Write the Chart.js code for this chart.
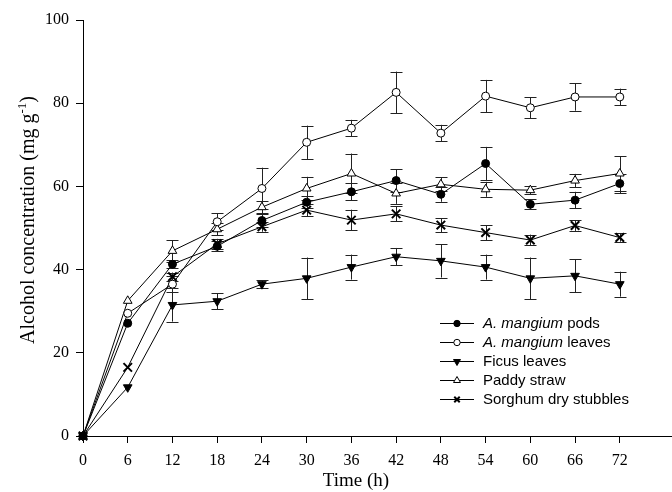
<!DOCTYPE html>
<html><head><meta charset="utf-8">
<script src="https://cdn.jsdelivr.net/npm/chart.js@4/dist/chart.umd.min.js"></script>
<style>html,body{margin:0;padding:0;background:#fff;overflow:hidden}#wrap{width:672px;height:492px;position:relative}canvas{display:block}</style>
</head><body><div id="wrap"><canvas id="c"></canvas></div>
<script>
// ---- data ----
const hours = [0,6,12,18,24,30,36,42,48,54,60,66,72];
const yTickValues = [0,20,40,60,80,100];
const xTitle = 'Time (h)';
const yTitleMain = 'Alcohol concentration (mg g';
const yTitleSup = '-1';
const yTitleEnd = ')';
const seriesItalic = ['A. mangium','A. mangium','','',''];
const seriesRest = [' pods',' leaves','Ficus leaves','Paddy straw','Sorghum dry stubbles'];
const podsValues    = [0,27.1,41.3,45.6,51.8,56.2,58.7,61.4,58.1,65.5,55.7,56.7,60.7];
const podsErrors    = [0,0,1.0,1.2,1.5,1.5,2.0,2.7,1.8,4.0,1.2,2.0,2.3];
const leavesValues  = [0,29.5,36.5,51.5,59.5,70.6,74.0,82.6,72.8,81.7,78.9,81.5,81.5];
const leavesErrors  = [0,0,2.0,2.0,5.0,4.0,2.0,5.0,2.0,3.9,2.5,3.3,2.0];
const ficusValues   = [0,11.7,31.5,32.4,36.5,37.9,40.6,43.1,42.1,40.6,37.9,38.5,36.5];
const ficusErrors   = [0,0,4.0,1.9,1.0,5.0,3.0,2.1,4.0,3.0,5.0,4.0,3.0];
const paddyValues   = [0,32.5,44.5,49.7,55.0,59.5,63.1,58.3,60.5,59.3,59.1,61.4,63.1];
const paddyErrors   = [0,0,2.6,1.5,1.5,2.8,4.8,2.5,1.7,1.8,1.0,1.6,4.2];
const sorghumValues = [0,16.5,38.3,46.2,50.3,54.3,51.9,53.4,50.7,48.9,47.1,50.6,47.7];
const sorghumErrors = [0,0,1.0,1.2,1.2,1.5,2.5,1.8,1.7,1.8,1.3,1.3,1.0];

const allValues = [podsValues, leavesValues, ficusValues, paddyValues, sorghumValues];
const allErrors = [podsErrors, leavesErrors, ficusErrors, paddyErrors, sorghumErrors];

const markerStyles = [
  {pointStyle:'circle', radius:4, bg:'#000', rot:0, bw:1},
  {pointStyle:'circle', radius:4, bg:'#fff', rot:0, bw:1},
  {pointStyle:'triangle', radius:5, bg:'#000', rot:180, bw:1},
  {pointStyle:'triangle', radius:5, bg:'#fff', rot:0, bw:1},
  {pointStyle:'crossRot', radius:6, bg:'#000', rot:0, bw:2}
];

const datasets = allValues.map((vals, i) => ({
  label: (seriesItalic[i] + seriesRest[i]).trim(),
  data: hours.map((h, j) => ({x:h, y:vals[j]})),
  errors: allErrors[i],
  borderColor:'#000', borderWidth:1, tension:0,
  pointStyle: markerStyles[i].pointStyle,
  pointRadius: markerStyles[i].radius,
  pointRotation: markerStyles[i].rot,
  pointBackgroundColor: markerStyles[i].bg,
  pointBorderColor:'#000',
  pointBorderWidth: markerStyles[i].bw,
  clip:false
}));

const errorBars = {
  id:'errorBars',
  beforeDatasetsDraw(chart){
    const ctx = chart.ctx, ys = chart.scales.y;
    ctx.save();
    ctx.strokeStyle = '#222'; ctx.lineWidth = 1;
    chart.data.datasets.forEach((ds, i) => {
      const meta = chart.getDatasetMeta(i);
      meta.data.forEach((pt, j) => {
        const e = ds.errors[j]; if (!e) return;
        const v = ds.data[j].y;
        const x = Math.round(pt.x) + 0.5;
        const y1 = ys.getPixelForValue(v + e), y2 = ys.getPixelForValue(v - e);
        ctx.beginPath();
        ctx.moveTo(x, y1); ctx.lineTo(x, y2);
        ctx.moveTo(x - 6, Math.round(y1)+0.5); ctx.lineTo(x + 6, Math.round(y1)+0.5);
        ctx.moveTo(x - 6, Math.round(y2)+0.5); ctx.lineTo(x + 6, Math.round(y2)+0.5);
        ctx.stroke();
      });
    });
    ctx.restore();
  }
};

function drawMarker(ctx, st, x, y, scale){
  const r = st.radius * scale;
  ctx.save();
  ctx.fillStyle = st.bg; ctx.strokeStyle = '#000'; ctx.lineWidth = st.bw;
  ctx.beginPath();
  if (st.pointStyle === 'circle') { ctx.arc(x, y, r, 0, Math.PI*2); ctx.fill(); ctx.stroke(); }
  else if (st.pointStyle === 'triangle') {
    const s = st.rot === 180 ? -1 : 1;
    ctx.moveTo(x, y - s*r);
    ctx.lineTo(x + r*0.866, y + s*r*0.5);
    ctx.lineTo(x - r*0.866, y + s*r*0.5);
    ctx.closePath(); ctx.fill(); ctx.stroke();
  } else {
    const d = r*0.7;
    ctx.moveTo(x-d, y-d); ctx.lineTo(x+d, y+d);
    ctx.moveTo(x+d, y-d); ctx.lineTo(x-d, y+d);
    ctx.stroke();
  }
  ctx.restore();
}

const serif = '"Liberation Serif", "Times New Roman", serif';

const customText = {
  id:'customText',
  afterDraw(chart){
    const ctx = chart.ctx;
    ctx.save();
    const x0 = 440, x1 = 474, tx = 483, y0 = 323, dy = 19;
    chart.data.datasets.forEach((ds, i) => {
      const y = y0 + i*dy;
      ctx.strokeStyle = '#000'; ctx.lineWidth = 1;
      ctx.beginPath(); ctx.moveTo(x0, y + 0.5); ctx.lineTo(x1, y + 0.5); ctx.stroke();
      drawMarker(ctx, markerStyles[i], (x0+x1)/2, y + 0.5, i === 4 ? 0.65 : 0.8);
      ctx.fillStyle = '#000'; ctx.textBaseline = 'middle'; ctx.textAlign = 'left';
      let x = tx;
      if (seriesItalic[i]) {
        ctx.font = 'italic 15px "Liberation Sans", Arial, sans-serif';
        ctx.fillText(seriesItalic[i], x, y + 1);
        x += ctx.measureText(seriesItalic[i]).width;
      }
      ctx.font = '15px "Liberation Sans", Arial, sans-serif';
      ctx.fillText(seriesRest[i], x, y + 1);
    });
    ctx.fillStyle = '#000';
    ctx.font = '19px ' + serif;
    ctx.textAlign = 'center'; ctx.textBaseline = 'middle';
    ctx.fillText(xTitle, 356, 481);
    const mainFont = '20px ' + serif, supFont = '13px ' + serif;
    ctx.font = mainFont; const w1 = ctx.measureText(yTitleMain).width;
    const w3 = ctx.measureText(yTitleEnd).width;
    ctx.font = supFont; const w2 = ctx.measureText(yTitleSup).width;
    const total = w1 + w2 + w3;
    ctx.translate(27, 220);
    ctx.rotate(-Math.PI/2);
    ctx.textAlign = 'left'; ctx.textBaseline = 'alphabetic';
    let sx = -total/2;
    ctx.font = mainFont; ctx.fillText(yTitleMain, sx, 7); sx += w1;
    ctx.font = supFont; ctx.fillText(yTitleSup, sx, -1); sx += w2;
    ctx.font = mainFont; ctx.fillText(yTitleEnd, sx, 7);
    ctx.restore();
  }
};

new Chart(document.getElementById('c'), {
  type:'line',
  data:{ datasets },
  plugins:[errorBars, customText],
  options:{
    responsive:true, maintainAspectRatio:false, animation:false,
    layout:{ autoPadding:false, padding:{ top:20, right:0, bottom:0, left:0 } },
    plugins:{ legend:{display:false}, tooltip:{enabled:false} },
    scales:{
      x:{
        type:'linear', min:0, max:79,
        afterBuildTicks(scale){ scale.ticks = hours.map(h => ({value:h})); },
        afterFit(scale){ scale.height = 56; scale.paddingRight = 0; scale.paddingLeft = 0; },
        grid:{ display:true, drawOnChartArea:false, drawTicks:true, tickLength:7, color:'#000', tickWidth:1 },
        border:{ display:true, color:'#000', width:1 },
        ticks:{ color:'#000', font:{family:serif, size:16}, padding:8, maxRotation:0, autoSkip:false },
        title:{ display:false }
      },
      y:{
        type:'linear', min:0, max:100,
        afterBuildTicks(scale){ scale.ticks = yTickValues.map(v => ({value:v})); },
        afterFit(scale){ scale.width = 83; },
        grid:{ display:true, drawOnChartArea:false, drawTicks:true, tickLength:7, color:'#000', tickWidth:1 },
        border:{ display:true, color:'#000', width:1 },
        ticks:{ color:'#000', font:{family:serif, size:16}, padding:7 },
        title:{ display:false }
      }
    }
  }
});
</script></body></html>
